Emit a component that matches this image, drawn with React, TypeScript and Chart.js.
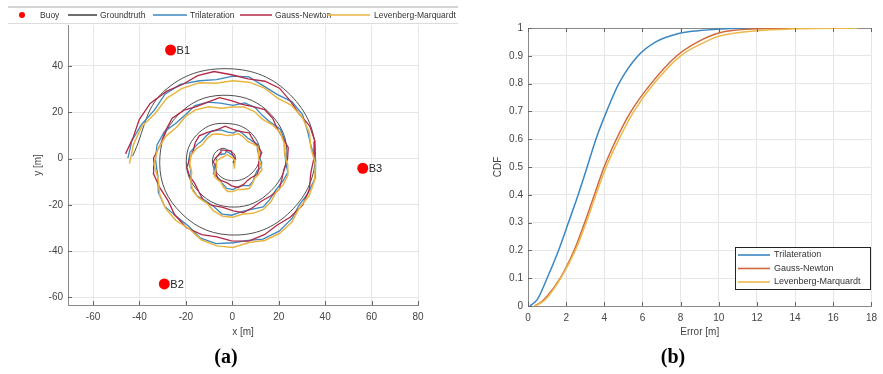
import React, { useEffect, useRef } from 'react';
import { Chart, registerables } from 'chart.js';

Chart.register(...registerables);
Chart.defaults.font.family = '"Liberation Sans", Arial, sans-serif';

// ---------- (a) spiral trajectory ----------
const xTicksA = [-60, -40, -20, 0, 20, 40, 60, 80];
const yTicksA = [-60, -40, -20, 0, 20, 40];

const buoyLabels = ['B1', 'B2', 'B3'];
const buoyX = [-26.6, -29.3, 56.2];
const buoyY = [46.9, -54.2, -4.2];

const gtX = [-43.0, -29.5, -1.5, 25.0, 35.8, 23.7, -1.5, -24.0, -31.2, -21.3, -1.5, 16.6, 23.5, 15.0, -1.5, -15.6, -19.7, -12.9, -1.5, 8.3, 12.0, 7.0, -1.5, -7.5, -8.2, -4.8, -1.5, 0.8, 1.5];
const gtY = [1.0, 29.0, 38.8, 27.5, 1.0, -24.2, -33.0, -21.5, 1.0, 20.8, 27.3, 19.1, 1.0, -15.5, -20.9, -13.1, 1.0, 12.4, 15.1, 10.8, 1.0, -7.5, -9.4, -5.0, 1.0, 4.3, 3.5, 2.0, -0.5];

const triX = [-45.0, -43.3, -39.2, -33.6, -28.9, -22.4, -14.2, -6.85, 0.3, 7.2, 13.4, 19.3, 25.6, 30.2, 32.4, 33.85, 35.9, 35.8, 32.5, 28.7, 25.8, 20.2, 13.2, 6.8, 0.4, -7.05, -13.9, -18.8, -24.2, -29.2, -31.9, -32.1, -33.1, -32.5, -29.3, -24.45, -20.1, -16.1, -10.6, -5.2, 0.3, 5.3, 9.7, 13.0, 16.6, 20.6, 22.4, 22.55, 23.1, 23.9, 22.0, 18.75, 16.0, 13.3, 9.2, 4.4, -0.3, -4.4, -8.0, -11.45, -15.1, -17.4, -17.7, -18.0, -18.9, -18.2, -15.3, -13.2, -11.4, -8.85, -5.0, -2.3, 0.4, 2.5, 4.3, 6.6, 9.1, 10.9, 10.8, 11.4, 12.4, 12.6, 10.7, 9.65, 8.9, 7.2, 4.2, 2.2, 0.3, -2.3, -4.5, -5.3, -6.4, -8.0, -7.9, -7.1, -6.7, -7.1, -5.8, -4.45, -3.1, -2.7, -1.6, -0.65, 0.3, 1.1, 0.6, 0.75, 0.9];
const triY = [0.2, 7.6, 14.6, 20.9, 27.9, 32.0, 33.6, 34.1, 35.6, 35.3, 31.4, 27.7, 24.6, 19.1, 12.0, 5.6, -0.6, -8.2, -15.2, -20.2, -25.8, -31.4, -34.8, -35.4, -36.4, -36.8, -34.3, -29.3, -25.0, -20.6, -14.6, -7.5, -0.5, 5.8, 11.6, 15.1, 19.0, 22.9, 24.4, 23.9, 23.0, 24.0, 22.1, 18.55, 15.5, 12.8, 8.6, 3.25, -2.0, -6.0, -9.5, -13.55, -17.9, -20.9, -21.8, -22.85, -24.5, -24.0, -20.7, -18.3, -16.2, -12.8, -8.0, -4.65, -1.4, 2.7, 5.9, 7.6, 9.6, 11.9, 12.4, 11.5, 11.0, 12.1, 10.9, 8.9, 7.2, 6.1, 3.9, 1.25, -1.3, -3.5, -5.2, -7.4, -9.9, -11.7, -11.7, -12.35, -13.4, -12.95, -10.5, -9.15, -8.1, -6.6, -3.9, -2.55, -1.3, 0.3, 1.6, 1.85, 2.1, 3.1, 2.6, 1.9, 1.2, 0.0, -1.3, -2.25, -3.2];

const gnX = [-46.0, -42.65, -40.1, -35.4, -28.2, -21.3, -14.9, -7.9, -0.3, 6.8, 14.1, 20.3, 24.9, 28.8, 33.3, 35.6, 35.2, 33.8, 33.2, 30.3, 24.9, 19.2, 14.0, 7.1, -0.4, -6.7, -13.2, -19.9, -24.9, -27.7, -31.2, -34.0, -33.9, -30.85, -28.6, -25.9, -20.8, -15.2, -10.0, -5.5, -0.4, 4.25, 9.0, 14.0, 17.4, 19.3, 21.7, 24.1, 23.8, 22.25, 21.3, 20.2, 16.8, 12.5, 8.5, 4.7, 0.4, -4.1, -8.7, -12.3, -14.4, -16.15, -18.4, -19.6, -18.2, -16.8, -16.0, -14.3, -10.7, -8.1, -5.7, -3.1, -0.3, 2.3, 5.0, 7.3, 8.4, 9.8, 11.5, 12.7, 11.7, 11.35, 11.4, 10.6, 8.2, 6.45, 4.9, 2.5, -0.3, -2.0, -3.8, -6.0, -7.0, -7.0, -7.3, -8.2, -7.3, -6.1, -5.2, -4.9, -3.6, -2.4, -1.2, -0.6, -0.2, 0.4, 1.0, 0.9, 0.3];
const gnY = [2.0, 9.3, 16.8, 23.8, 29.1, 32.1, 35.8, 37.6, 36.2, 34.4, 33.4, 30.4, 25.0, 19.3, 14.1, 7.5, 0.4, -6.3, -13.2, -20.1, -25.4, -28.8, -32.8, -35.7, -35.6, -33.85, -32.9, -29.8, -24.2, -18.2, -12.7, -6.5, 0.3, 6.3, 12.4, 17.4, 20.9, 22.5, 24.6, 26.3, 25.0, 23.4, 22.4, 21.1, 17.4, 13.0, 9.0, 4.7, -0.2, -4.6, -9.1, -13.3, -16.0, -18.45, -21.4, -23.4, -22.6, -21.15, -20.3, -18.4, -14.4, -10.85, -7.6, -3.9, 0.3, 3.45, 6.8, 9.8, 11.3, 11.9, 12.8, 14.0, 12.8, 11.9, 11.4, 11.1, 9.0, 6.6, 4.5, 2.5, 0.2, -2.2, -4.7, -7.0, -8.2, -9.55, -11.2, -12.5, -11.8, -10.65, -9.9, -9.1, -6.6, -4.75, -3.0, -1.5, 0.2, 1.3, 2.5, 3.7, 3.6, 3.45, 3.3, 3.4, 2.4, 1.2, 0.0, -0.9, -1.9];

const lmX = [-44.3, -42.6, -39.0, -33.15, -28.3, -21.85, -14.3, -6.95, 0.2, 7.25, 13.9, 19.35, 25.5, 30.2, 33.2, 33.9, 35.8, 35.45, 33.1, 28.8, 25.5, 20.25, 13.9, 7.0, 0.3, -6.75, -13.4, -18.5, -24.3, -28.65, -31.3, -31.95, -33.8, -32.2, -28.6, -23.9, -20.2, -15.7, -10.1, -4.85, 0.2, 5.05, 9.5, 13.05, 17.3, 20.65, 22.3, 22.5, 23.9, 23.9, 21.9, 18.8, 16.7, 13.4, 9.0, 4.5, 0.2, -4.2, -8.2, -11.0, -14.5, -17.05, -17.9, -17.5, -18.3, -17.85, -15.5, -12.75, -10.8, -8.6, -5.2, -2.45, 0.2, 2.75, 4.9, 6.6, 8.9, 11.0, 11.4, 11.3, 12.2, 12.75, 11.3, 9.6, 8.7, 7.3, 4.8, 2.4, 0.2, -2.05, -3.9, -4.9, -6.5, -7.7, -7.4, -6.7, -6.8, -6.85, -5.3, -4.25, -3.2, -2.35, -1.2, -0.5, 0.2, 1.2, 1.0, 0.9, 0.8];
const lmY = [-2.2, 6.05, 13.9, 19.6, 26.0, 30.2, 32.7, 32.55, 33.6, 33.0, 30.4, 26.2, 23.0, 17.65, 11.2, 4.3, -2.4, -9.4, -16.0, -21.5, -27.7, -32.4, -35.4, -36.3, -38.4, -37.75, -35.1, -30.45, -26.8, -21.75, -15.6, -8.85, -2.3, 3.9, 9.7, 13.6, 18.2, 21.1, 22.4, 21.75, 22.3, 22.3, 20.3, 16.95, 14.6, 11.2, 6.7, 1.8, -2.9, -7.35, -11.4, -14.65, -18.6, -22.0, -23.7, -23.95, -25.4, -24.95, -22.5, -19.25, -17.0, -13.95, -9.8, -5.95, -2.3, 1.25, 4.2, 6.15, 8.7, 10.45, 10.6, 9.9, 10.2, 10.7, 9.2, 7.4, 6.4, 4.9, 2.3, -0.05, -2.4, -4.85, -6.9, -8.6, -10.8, -12.95, -13.4, -13.35, -14.3, -14.25, -12.2, -10.2, -9.0, -7.75, -5.5, -3.85, -2.3, -1.05, 0.0, 0.55, 1.1, 1.75, 1.0, 0.6, 0.2, -1.0, -2.3, -3.35, -4.4];

// ---------- (b) error CDF ----------
const xTicksB = [0, 2, 4, 6, 8, 10, 12, 14, 16, 18];
const yTicksB = [0, 0.1, 0.2, 0.3, 0.4, 0.5, 0.6, 0.7, 0.8, 0.9, 1];

const triErr = [0.1, 0.5, 1.0, 1.6, 2.12, 2.63, 3.1, 3.56, 4.12, 4.76, 5.77, 6.7, 7.9, 8.9, 10.6, 12.5];
const triCdf = [0, 0.025, 0.1, 0.2, 0.3, 0.4, 0.5, 0.6, 0.7, 0.8, 0.9, 0.95, 0.98, 0.99, 0.998, 1.0];
const gnErr = [0.35, 0.7, 1.0, 1.69, 2.42, 2.97, 3.48, 3.99, 4.63, 5.4, 6.45, 7.8, 8.9, 10, 12, 14, 16];
const gnCdf = [0, 0.015, 0.035, 0.1, 0.2, 0.3, 0.4, 0.5, 0.6, 0.7, 0.8, 0.9, 0.95, 0.982, 0.997, 0.9995, 1.0];
const lmErr = [0.35, 0.7, 1.0, 1.72, 2.48, 3.05, 3.56, 4.1, 4.77, 5.55, 6.6, 8.0, 9.3, 10, 12, 14, 17.3];
const lmCdf = [0, 0.012, 0.03, 0.1, 0.2, 0.3, 0.4, 0.5, 0.6, 0.7, 0.8, 0.9, 0.95, 0.97, 0.99, 0.997, 1.0];

const namesA = ['Buoy', 'Groundtruth', 'Trilateration', 'Gauss-Newton', 'Levenberg-Marquardt'];
const colorsA = ['#ff0000', '#3c3c3c', '#3b87c2', '#b22a48', '#e9b540'];
const namesB = ['Trilateration', 'Gauss-Newton', 'Levenberg-Marquardt'];
const colorsB = ['#3b87c2', '#d0683c', '#ebb94c'];

const zip = (xs: number[], ys: number[]) => xs.map((x, i) => ({ x, y: ys[i] }));
const setTicks = (arr: number[]) => (scale: any) => {
  scale.ticks = arr.map((v) => ({ value: v }));
};

const TXT = '#444444';

function tickMarks(top: boolean) {
  return {
    id: 'tickMarks',
    afterDraw(chart: any) {
      const { ctx, chartArea: a, scales } = chart;
      ctx.save();
      ctx.strokeStyle = '#666';
      ctx.lineWidth = 1;
      ctx.beginPath();
      scales.x.ticks.forEach((t: any) => {
        const px = Math.round(scales.x.getPixelForValue(t.value)) + 0.5;
        ctx.moveTo(px, a.bottom);
        ctx.lineTo(px, a.bottom - 4);
        if (top) {
          ctx.moveTo(px, a.top);
          ctx.lineTo(px, a.top + 4);
        }
      });
      scales.y.ticks.forEach((t: any) => {
        const py = Math.round(scales.y.getPixelForValue(t.value)) + 0.5;
        ctx.moveTo(a.left, py);
        ctx.lineTo(a.left + 4, py);
      });
      ctx.stroke();
      ctx.restore();
    },
  };
}

const buoyLabelPlugin = {
  id: 'buoyLabels',
  afterDatasetsDraw(chart: any) {
    const { ctx, scales } = chart;
    ctx.save();
    ctx.fillStyle = '#222';
    ctx.font = '11px "Liberation Sans", Arial, sans-serif';
    ctx.textBaseline = 'middle';
    buoyLabels.forEach((lab, i) => {
      ctx.fillText(lab, scales.x.getPixelForValue(buoyX[i]) + 6, scales.y.getPixelForValue(buoyY[i]) + 1);
    });
    ctx.restore();
  },
};

const legendAPlugin = {
  id: 'legendA',
  afterDraw(chart: any) {
    const ctx = chart.ctx;
    ctx.save();
    ctx.fillStyle = '#ffffff';
    ctx.fillRect(8, 7, 480, 16);
    ctx.fillStyle = '#d4d4d4';
    ctx.fillRect(8, 6, 480, 2);
    ctx.fillStyle = '#dcdcdc';
    ctx.fillRect(8, 23, 480, 1);
    ctx.font = '8.5px "Liberation Sans", Arial, sans-serif';
    ctx.textBaseline = 'middle';
    const cy = 15;
    ctx.fillStyle = colorsA[0];
    ctx.beginPath();
    ctx.arc(22, cy, 3, 0, Math.PI * 2);
    ctx.fill();
    ctx.fillStyle = '#333';
    ctx.fillText(namesA[0], 40, cy + 0.5);
    const segs = [[68, 97, 100], [153, 187, 190], [240, 272, 275], [327, 370, 374]];
    segs.forEach((s, i) => {
      ctx.strokeStyle = colorsA[i + 1];
      ctx.lineWidth = 1.5;
      ctx.beginPath();
      ctx.moveTo(s[0], cy);
      ctx.lineTo(s[1], cy);
      ctx.stroke();
      ctx.fillStyle = '#333';
      ctx.fillText(namesA[i + 1], s[2], cy + 0.5);
    });
    ctx.restore();
  },
};

const legendBPlugin = {
  id: 'legendB',
  afterDraw(chart: any) {
    const ctx = chart.ctx;
    ctx.save();
    ctx.fillStyle = '#ffffff';
    ctx.fillRect(275.5, 247.5, 135, 42);
    ctx.strokeStyle = '#222';
    ctx.lineWidth = 1;
    ctx.strokeRect(275.5, 247.5, 135, 42);
    ctx.font = '9px "Liberation Sans", Arial, sans-serif';
    ctx.textBaseline = 'middle';
    const rows = [255, 268.5, 282];
    namesB.forEach((n, i) => {
      ctx.strokeStyle = colorsB[i];
      ctx.lineWidth = 1.6;
      ctx.beginPath();
      ctx.moveTo(278, rows[i]);
      ctx.lineTo(310, rows[i]);
      ctx.stroke();
      ctx.fillStyle = '#333';
      ctx.fillText(n, 314, rows[i]);
    });
    ctx.restore();
  },
};

function axisCommon(title: string, isY: boolean) {
  return {
    type: 'linear' as const,
    grid: { color: '#e6e6e6', drawTicks: false },
    border: { color: '#8a8a8a' },
    ticks: {
      padding: isY ? 5 : 6,
      color: TXT,
      font: { size: 10 },
      maxRotation: 0,
      autoSkip: false,
      callback: (v: any) => String(v),
    },
    title: {
      display: true,
      text: title,
      color: TXT,
      font: { size: 10 },
      padding: isY ? { top: 32, bottom: 0 } : { top: 0, bottom: 7 },
    },
  };
}

export default function App() {
  const refA = useRef<HTMLCanvasElement>(null);
  const refB = useRef<HTMLCanvasElement>(null);

  useEffect(() => {
    const line = (label: string, xs: number[], ys: number[], color: string, w: number, tension: number) => ({
      label,
      data: zip(xs, ys),
      showLine: true,
      borderColor: color,
      backgroundColor: color,
      borderWidth: w,
      pointRadius: 0,
      tension,
    });

    const chartA = new Chart(refA.current as HTMLCanvasElement, {
      type: 'scatter',
      data: {
        datasets: [
          {
            label: namesA[0],
            data: zip(buoyX, buoyY),
            backgroundColor: colorsA[0],
            borderWidth: 0,
            pointRadius: 5.5,
            showLine: false,
          },
          line(namesA[4], lmX, lmY, colorsA[4], 1.5, 0),
          line(namesA[3], gnX, gnY, colorsA[3], 1.3, 0),
          line(namesA[2], triX, triY, colorsA[2], 1.3, 0),
          line(namesA[1], gtX, gtY, colorsA[1], 0.9, 0.4),
        ] as any,
      },
      options: {
        responsive: false,
        animation: false,
        devicePixelRatio: 1,
        layout: { padding: { left: 0, top: 25, right: 40, bottom: 0 }, autoPadding: false } as any,
        plugins: { legend: { display: false }, tooltip: { enabled: false } },
        scales: {
          x: {
            ...axisCommon('x [m]', false),
            min: -70.8,
            max: 80,
            afterBuildTicks: setTicks(xTicksA),
            afterFit: (s: any) => {
              s.height = 40;
            },
          },
          y: {
            ...axisCommon('y [m]', true),
            min: -63.3,
            max: 57.7,
            afterBuildTicks: setTicks(yTicksA),
            afterFit: (s: any) => {
              s.width = 68;
            },
          },
        } as any,
      },
      plugins: [tickMarks(false), buoyLabelPlugin, legendAPlugin],
    });

    const chartB = new Chart(refB.current as HTMLCanvasElement, {
      type: 'scatter',
      data: {
        datasets: [
          { ...line(namesB[2], lmErr, lmCdf, colorsB[2], 1.5, 0), cubicInterpolationMode: 'monotone' },
          { ...line(namesB[1], gnErr, gnCdf, colorsB[1], 1.5, 0), cubicInterpolationMode: 'monotone' },
          { ...line(namesB[0], triErr, triCdf, colorsB[0], 1.5, 0), cubicInterpolationMode: 'monotone' },
        ] as any,
      },
      options: {
        responsive: false,
        animation: false,
        devicePixelRatio: 1,
        layout: { padding: { left: 0, top: 28, right: 2, bottom: 0 }, autoPadding: false } as any,
        plugins: { legend: { display: false }, tooltip: { enabled: false } },
        scales: {
          x: {
            ...axisCommon('Error [m]', false),
            min: 0,
            max: 18,
            afterBuildTicks: setTicks(xTicksB),
            afterFit: (s: any) => {
              s.height = 39;
            },
          },
          y: {
            ...axisCommon('CDF', true),
            min: 0,
            max: 1,
            grid: {
              drawTicks: false,
              color: (c: any) => (c.tick && c.tick.value === 1 ? '#8a8a8a' : '#e6e6e6'),
            },
            afterBuildTicks: setTicks(yTicksB),
            afterFit: (s: any) => {
              s.width = 68;
            },
          },
        } as any,
      },
      plugins: [tickMarks(true), legendBPlugin],
    });

    return () => {
      chartA.destroy();
      chartB.destroy();
    };
  }, []);

  const capStyle: React.CSSProperties = {
    position: 'absolute',
    width: 60,
    textAlign: 'center',
    font: 'bold 20px "Liberation Serif", "Times New Roman", serif',
    lineHeight: '24px',
    color: '#000',
  };

  return (
    <div style={{ position: 'absolute', left: 0, top: 0, width: 883, height: 374, background: '#fff', overflow: 'hidden' }}>
      <canvas ref={refA} width={458} height={345} style={{ position: 'absolute', left: 0, top: 0 }} />
      <canvas ref={refB} width={423} height={345} style={{ position: 'absolute', left: 460, top: 0 }} />
      <div style={{ ...capStyle, left: 196, top: 344 }}>(a)</div>
      <div style={{ ...capStyle, left: 643, top: 344 }}>(b)</div>
    </div>
  );
}
